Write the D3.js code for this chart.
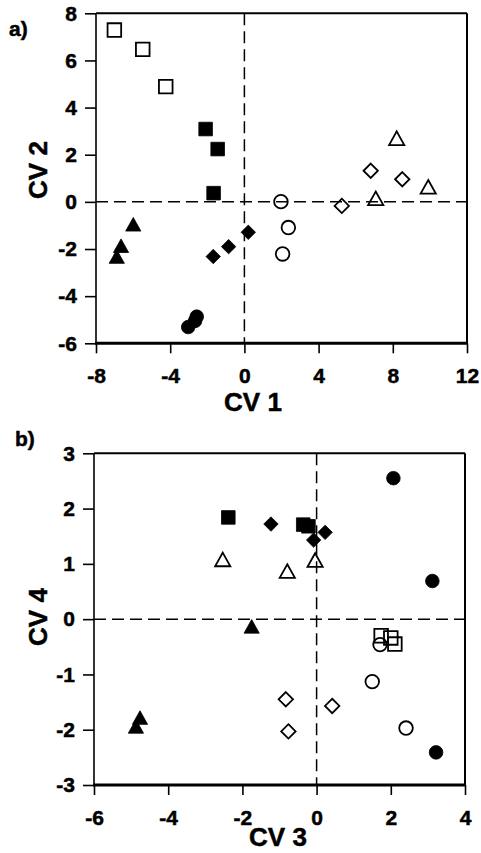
<!DOCTYPE html>
<html>
<head>
<meta charset="utf-8">
<script src="https://cdn.jsdelivr.net/npm/d3@7/dist/d3.min.js"></script>
<style>
  html, body { margin: 0; padding: 0; background: #fff; }
  svg { display: block; }
  text { font-family: "Liberation Sans", Arial, sans-serif; font-weight: bold; fill: #000; }
</style>
</head>
<body>
<svg id="chart" width="481" height="853"></svg>
<script>
// ---- data: canonical variate scores, one row per sample ----
// panel a) CV 1 vs CV 2
const groupA = ["openSquare","openSquare","openSquare",
                "filledSquare","filledSquare","filledSquare",
                "openTriangle","openTriangle","openTriangle",
                "openDiamond","openDiamond","openDiamond",
                "openCircle","openCircle","openCircle",
                "filledDiamond","filledDiamond","filledDiamond",
                "filledTriangle","filledTriangle","filledTriangle",
                "filledCircle","filledCircle","filledCircle"];
const cv1 = [-7.01,-5.48,-4.24, -2.09,-1.44,-1.66, 8.21,9.91,7.08, 6.81,8.51,5.25,
             1.97,2.37,2.06, 0.21,-0.85,-1.68, -5.99,-6.65,-6.88, -2.57,-2.66,-3.03];
const cv2 = [7.29,6.47,4.89, 3.09,2.24,0.37, 2.70,0.64,0.15, 1.32,0.96,-0.17,
             0.01,-1.09,-2.21, -1.29,-1.90,-2.32, -0.95,-1.86,-2.32, -4.87,-5.05,-5.31];

// panel b) CV 3 vs CV 4
const groupB = ["filledCircle","filledCircle","filledCircle",
                "filledSquare","filledSquare","filledSquare",
                "filledDiamond","filledDiamond","filledDiamond",
                "openTriangle","openTriangle","openTriangle",
                "filledTriangle","filledTriangle","filledTriangle",
                "openSquare","openSquare","openSquare",
                "openCircle","openCircle","openCircle",
                "openDiamond","openDiamond","openDiamond"];
const cv3 = [2.07,3.12,3.22, -2.38,-0.36,-0.22, -1.23,0.23,-0.08, -2.53,-0.79,-0.04,
             -1.75,-4.76,-4.87, 1.74,2.00,2.11, 1.71,1.50,2.41, -0.83,-0.76,0.42];
const cv4 = [2.55,0.69,-2.41, 1.84,1.71,1.68, 1.72,1.57,1.43, 1.08,0.87,1.07,
             -0.13,-1.78,-1.94, -0.30,-0.34,-0.45, -0.46,-1.13,-1.97, -1.45,-2.03,-1.57];

// axis ticks
const ticksCV1 = [-8,-4,0,4,8,12];
const ticksCV2 = [-6,-4,-2,0,2,4,6,8];
const ticksCV3 = [-6,-4,-2,0,2,4];
const ticksCV4 = [-3,-2,-1,0,1,2,3];

// ---- marker shapes ----
function markerPath(kind) {
  const shape = kind.replace(/^(open|filled)/, "");
  if (shape === "Square") { const h = 6.8; return `M${-h},${-h}H${h}V${h}H${-h}Z`; }
  if (shape === "Circle") { const r = 6.8; return `M${r},0A${r},${r},0,1,1,${-r},0A${r},${r},0,1,1,${r},0Z`; }
  if (shape === "Diamond") { const r = 7.2; return `M0,${-r}L${r},0L0,${r}L${-r},0Z`; }
  if (shape === "Triangle") { const w = 7.6, h = 6.8; return `M0,${-h}L${w},${h}L${-w},${h}Z`; }
}

const svg = d3.select("#chart");

function styleText(sel, size) {
  sel.attr("fill", "#000").attr("stroke", "#000").attr("stroke-width", 0.5)
    .style("font-size", size + "px")
    .style("font-family", "'Liberation Sans', Arial, sans-serif").style("font-weight", "bold");
}

function panel(cfg) {
  const x = d3.scaleLinear().domain(cfg.xDomain).range([cfg.left, cfg.right]);
  const y = d3.scaleLinear().domain(cfg.yDomain).range([cfg.bottom, cfg.top]);
  const g = svg.append("g");

  // zero reference lines
  g.append("line").attr("x1", x(0)).attr("x2", x(0)).attr("y1", cfg.top).attr("y2", cfg.bottom)
    .attr("stroke", "#000").attr("stroke-width", 1.5).attr("stroke-dasharray", "12,6");
  g.append("line").attr("x1", cfg.left).attr("x2", cfg.right).attr("y1", y(0)).attr("y2", y(0))
    .attr("stroke", "#000").attr("stroke-width", 1.5).attr("stroke-dasharray", "12,6");

  // axes
  const xAxis = g.append("g").attr("transform", `translate(0,${cfg.bottom})`)
    .call(d3.axisBottom(x).tickValues(cfg.xTicks).tickSize(10).tickSizeOuter(0).tickPadding(15));
  const yAxis = g.append("g").attr("transform", `translate(${cfg.left},0)`)
    .call(d3.axisLeft(y).tickValues(cfg.yTicks).tickSize(11).tickSizeOuter(0).tickPadding(8));
  [xAxis, yAxis].forEach(a => {
    a.select(".domain").remove();
    a.selectAll(".tick line").attr("stroke", "#000").attr("stroke-width", 1.6);
    styleText(a.selectAll(".tick text"), cfg.tickFont);
    a.selectAll(".tick text").text(d => d < 0 ? "-" + Math.abs(d) : d);
  });

  // frame
  const edge = (x1, y1, x2, y2, w) => g.append("line").attr("x1", x1).attr("y1", y1)
    .attr("x2", x2).attr("y2", y2).attr("stroke", "#000").attr("stroke-width", w);
  edge(cfg.left, cfg.top, cfg.right, cfg.top, 2);
  edge(cfg.right, cfg.top, cfg.right, cfg.bottom, 2);
  edge(cfg.left, cfg.top, cfg.left, cfg.bottom + 1.5, 1.6);
  edge(cfg.left - 0.8, cfg.bottom, cfg.right + 1, cfg.bottom, 3);

  // points
  g.append("g").selectAll("path").data(cfg.xs.map((v, i) => ({ x: v, y: cfg.ys[i], k: cfg.groups[i] })))
    .join("path")
    .attr("d", d => markerPath(d.k))
    .attr("transform", d => `translate(${x(d.x)},${y(d.y)})`)
    .attr("fill", d => d.k.startsWith("filled") ? "#000" : "none")
    .attr("stroke", "#000")
    .attr("stroke-width", d => d.k.startsWith("filled") ? 0.8 : 1.8);

  // titles
  styleText(g.append("text").attr("x", cfg.xTitlePos[0]).attr("y", cfg.xTitlePos[1])
    .attr("text-anchor", "middle").text(cfg.xTitle), 26);
  styleText(g.append("text").attr("transform", `translate(${cfg.yTitlePos[0]},${cfg.yTitlePos[1]}) rotate(-90)`)
    .attr("text-anchor", "middle").text(cfg.yTitle), 26);
  styleText(g.append("text").attr("x", cfg.tagPos[0]).attr("y", cfg.tagPos[1]).text(cfg.tag), 21);
}

panel({
  left: 96, right: 467, top: 13.3, bottom: 343.3,
  xDomain: [-8, 12], yDomain: [-6, 8],
  xTicks: ticksCV1, yTicks: ticksCV2, tickFont: 21,
  xs: cv1, ys: cv2, groups: groupA,
  xTitle: "CV 1", yTitle: "CV 2",
  xTitlePos: [253, 411], yTitlePos: [47, 170],
  tag: "a)", tagPos: [9, 36]
});

panel({
  left: 94, right: 465, top: 453.3, bottom: 785,
  xDomain: [-6, 4], yDomain: [-3, 3],
  xTicks: ticksCV3, yTicks: ticksCV4, tickFont: 21,
  xs: cv3, ys: cv4, groups: groupB,
  xTitle: "CV 3", yTitle: "CV 4",
  xTitlePos: [278, 846], yTitlePos: [47, 617],
  tag: "b)", tagPos: [15, 446]
});
</script>
</body>
</html>
